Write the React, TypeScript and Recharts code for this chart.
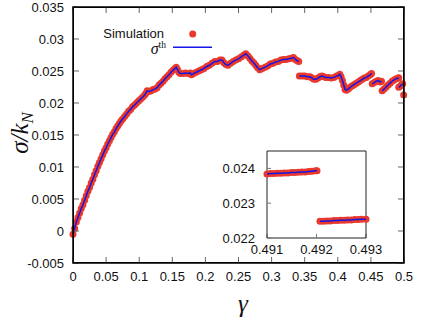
import { ComposedChart, Line, XAxis, YAxis } from "recharts";

// main curve, split where the stress drops leave a gap
const gamma1 = [
  0, 0.0025, 0.005, 0.0075, 0.01, 0.0125, 0.015, 0.0175, 0.02, 0.0225,
  0.025, 0.0275, 0.03, 0.0325, 0.035, 0.0375, 0.04, 0.0425, 0.045, 0.0475,
  0.05, 0.0525, 0.055, 0.0575, 0.06, 0.0625, 0.065, 0.0675, 0.07, 0.0725,
  0.075, 0.078, 0.081, 0.084, 0.087, 0.09, 0.093, 0.096, 0.099, 0.102,
  0.105, 0.108, 0.11, 0.112, 0.115, 0.118, 0.121, 0.124, 0.127, 0.13,
  0.133, 0.136, 0.139, 0.142, 0.145, 0.148, 0.151, 0.154, 0.156, 0.158,
  0.16, 0.162, 0.166, 0.17, 0.174, 0.177, 0.179, 0.182, 0.186, 0.19,
  0.194, 0.198, 0.202, 0.206, 0.21, 0.214, 0.218, 0.222, 0.225, 0.228,
  0.231, 0.234, 0.238, 0.242, 0.246, 0.25, 0.254, 0.258, 0.261, 0.264,
  0.267, 0.27, 0.273, 0.276, 0.279, 0.282, 0.286, 0.29, 0.294, 0.298,
  0.302, 0.306, 0.31, 0.314, 0.318, 0.322, 0.326, 0.33, 0.333, 0.336,
  0.339, 0.341,
];
const sigma1 = [
  -0.0005, 0.0004, 0.0014, 0.0021, 0.0028, 0.0035, 0.0041, 0.0048, 0.0055, 0.0062,
  0.0068, 0.0075, 0.0081, 0.0088, 0.0094, 0.0101, 0.0107, 0.0113, 0.0119, 0.0125,
  0.013, 0.0136, 0.0141, 0.0146, 0.0151, 0.0155, 0.016, 0.0164, 0.0168, 0.0172,
  0.0175, 0.0179, 0.0183, 0.0187, 0.019, 0.0194, 0.0197, 0.02, 0.0203, 0.0206,
  0.0209, 0.0212, 0.0215, 0.0219, 0.0218, 0.0219, 0.0221, 0.0222, 0.0224, 0.0228,
  0.0231, 0.0234, 0.0238, 0.0241, 0.0244, 0.0248, 0.0251, 0.0254, 0.0256, 0.0252,
  0.0248, 0.0246, 0.0246, 0.0247, 0.0246, 0.0247, 0.0244, 0.0246, 0.0248, 0.025,
  0.0252, 0.0254, 0.0257, 0.0259, 0.0262, 0.0265, 0.0265, 0.0267, 0.0267, 0.0263,
  0.026, 0.0259, 0.0262, 0.0265, 0.0267, 0.0269, 0.0272, 0.0275, 0.0277, 0.0274,
  0.027, 0.0266, 0.0263, 0.0259, 0.0255, 0.0252, 0.0254, 0.0256, 0.0258, 0.0261,
  0.0262, 0.0264, 0.0265, 0.0267, 0.0268, 0.0268, 0.0269, 0.027, 0.0271, 0.0268,
  0.0266, 0.0265,
];
const gamma2 = [
  0.342, 0.346, 0.35, 0.354, 0.358, 0.361, 0.364, 0.367, 0.37, 0.373,
  0.376, 0.379, 0.382, 0.386, 0.39, 0.394, 0.398, 0.401, 0.403, 0.405,
  0.407, 0.409, 0.411, 0.413, 0.416, 0.419, 0.422, 0.425, 0.428, 0.431,
  0.434, 0.437, 0.44, 0.443, 0.446, 0.449, 0.451,
];
const sigma2 = [
  0.0242, 0.0242, 0.0242, 0.0241, 0.0241, 0.0239, 0.0237, 0.0237, 0.0239, 0.0241,
  0.0242, 0.0241, 0.024, 0.024, 0.0239, 0.024, 0.0242, 0.0243, 0.0245, 0.0241,
  0.0235, 0.0228, 0.0221, 0.022, 0.0222, 0.0225, 0.0227, 0.0229, 0.0231, 0.0233,
  0.0235, 0.0237, 0.0239, 0.024, 0.0242, 0.0244, 0.0246,
];
const gamma3 = [0.452, 0.455, 0.458, 0.461, 0.464, 0.466];
const sigma3 = [0.023, 0.0232, 0.0234, 0.0235, 0.0233, 0.0234];
const gamma4 = [0.467, 0.47, 0.473, 0.476, 0.479, 0.482, 0.485, 0.488, 0.491, 0.492];
const sigma4 = [0.0219, 0.0222, 0.0225, 0.0228, 0.0231, 0.0234, 0.0236, 0.0238, 0.02385, 0.02393];
const gamma5 = [0.4921, 0.494, 0.496, 0.498];
const sigma5 = [0.02245, 0.0226, 0.0228, 0.023];
const gamma6 = [0.4995];
const sigma6 = [0.02125];

// zoomed window around gamma = 0.492
const gammaZoomA = [
  0.491, 0.49107, 0.49114, 0.49121, 0.49128, 0.49135, 0.49142, 0.49149,
  0.49156, 0.49163, 0.4917, 0.49177, 0.49184, 0.49191, 0.49198, 0.49201,
];
const sigmaZoomA = [
  0.02384, 0.02385, 0.02385, 0.02386, 0.02386, 0.02387, 0.02387, 0.02388,
  0.02388, 0.02389, 0.0239, 0.0239, 0.02391, 0.02392, 0.02393, 0.02393,
];
const gammaZoomB = [
  0.49207, 0.49214, 0.49221, 0.49228, 0.49235, 0.49242, 0.49249, 0.49256,
  0.49263, 0.4927, 0.49277, 0.49284, 0.49291, 0.493,
];
const sigmaZoomB = [
  0.02248, 0.02248, 0.02249, 0.02249, 0.0225, 0.0225, 0.02251, 0.02251,
  0.02252, 0.02252, 0.02253, 0.02253, 0.02254, 0.02254,
];

const xTicks = [0, 0.05, 0.1, 0.15, 0.2, 0.25, 0.3, 0.35, 0.4, 0.45, 0.5];
const yTicks = [-0.005, 0, 0.005, 0.01, 0.015, 0.02, 0.025, 0.03, 0.035];
const xTicksZoom = [0.491, 0.492, 0.493];
const yTicksZoom = [0.022, 0.023, 0.024];

const RED = "#e8392c";
const BLUE = "#1515e6";
const SANS = "Liberation Sans, Arial, sans-serif";
const SERIF = "Liberation Serif, Times New Roman, serif";

// main plot box (matches the chart margins / axis sizes below)
const BOX = { left: 73, right: 404, top: 7, bottom: 263 };

type Row = { g: number; sim: number | null; th: number | null };

function joinSegments(segs: [number[], number[]][]): Row[] {
  const rows: Row[] = [];
  segs.forEach(([gs, ss], k) => {
    if (k > 0) rows.push({ g: gs[0], sim: null, th: null });
    gs.forEach((g, i) => rows.push({ g, sim: ss[i], th: ss[i] }));
  });
  return rows;
}

const mainData = joinSegments([
  [gamma1, sigma1],
  [gamma2, sigma2],
  [gamma3, sigma3],
  [gamma4, sigma4],
  [gamma5, sigma5],
  [gamma6, sigma6],
]);
const zoomData = joinSegments([
  [gammaZoomA, sigmaZoomA],
  [gammaZoomB, sigmaZoomB],
]);

// frame, inward ticks, axis titles and key, drawn over the main chart
function Overlay() {
  const w = BOX.right - BOX.left;
  const h = BOX.bottom - BOX.top;
  const px = (v: number) => BOX.left + (v / 0.5) * w;
  const py = (v: number) => BOX.bottom - ((v + 0.005) / 0.04) * h;
  return (
    <svg width={436} height={327} style={{ position: "absolute", left: 0, top: 0, pointerEvents: "none" }}>
      <g stroke="#666" strokeWidth={1}>
        {xTicks.map((v) => (
          <g key={"x" + v}>
            <line x1={px(v)} x2={px(v)} y1={BOX.bottom} y2={BOX.bottom - 6} />
            <line x1={px(v)} x2={px(v)} y1={BOX.top} y2={BOX.top + 6} />
          </g>
        ))}
        {yTicks.map((v) => (
          <g key={"y" + v}>
            <line x1={BOX.left} x2={BOX.left + 6} y1={py(v)} y2={py(v)} />
            <line x1={BOX.right} x2={BOX.right - 6} y1={py(v)} y2={py(v)} />
          </g>
        ))}
      </g>
      <rect x={BOX.left} y={BOX.top} width={w} height={h} fill="none" stroke="#000" strokeWidth={1.5} />
      <text
        x={28}
        y={133}
        transform="rotate(-90 28 133)"
        textAnchor="middle"
        fontFamily={SERIF}
        fontStyle="italic"
        fontSize={25}
        fill="#111"
      >
        σ/k
        <tspan fontSize={17} dy={5}>
          N
        </tspan>
      </text>
      <text x={243} y={312} textAnchor="middle" fontFamily={SERIF} fontStyle="italic" fontSize={25} fill="#111">
        γ
      </text>
      <g transform="translate(90 26)">
        <text x={74} y={12} textAnchor="end" fontFamily={SANS} fontSize={13} fill="#111">
          Simulation
        </text>
        <circle cx={102.7} cy={8} r={3.5} fill={RED} />
        <text x={76} y={27.5} textAnchor="end" fontFamily={SERIF} fontSize={16} fill="#111">
          <tspan fontStyle="italic">σ</tspan>
          <tspan fontSize={9.5} dy={-6}>
            th
          </tspan>
        </text>
        <line x1={83} x2={122} y1={21.3} y2={21.3} stroke={BLUE} strokeWidth={1.5} />
      </g>
    </svg>
  );
}

// four axes, ticks pointing inwards, labels only bottom/left
function frameAxes(xDom: number[], yDom: number[], xt: number[], yt: number[], o: any) {
  const line = o.frame ? { stroke: o.frame } : false;
  const tl = o.frame ? { stroke: "#777" } : false;
  const font = { fontSize: 13, fill: "#111", fontFamily: SANS };
  return [
    <XAxis
      key="xb"
      xAxisId="b"
      dataKey="g"
      type="number"
      domain={xDom}
      ticks={xt}
      interval={0}
      height={o.xh}
      tickSize={-o.ts}
      tickMargin={o.xm}
      axisLine={line}
      tickLine={tl}
      tick={font}
    />,
    <XAxis
      key="xt"
      xAxisId="t"
      orientation="top"
      type="number"
      domain={xDom}
      allowDataOverflow
      ticks={xt}
      interval={0}
      height={1}
      tick={false}
      tickSize={-o.ts}
      axisLine={line}
      tickLine={tl}
    />,
    <YAxis
      key="yl"
      yAxisId="l"
      type="number"
      domain={yDom}
      ticks={yt}
      interval={0}
      width={o.yw}
      tickSize={-o.ts}
      tickMargin={o.ym}
      axisLine={line}
      tickLine={tl}
      tick={font}
    />,
    <YAxis
      key="yr"
      yAxisId="r"
      orientation="right"
      type="number"
      domain={yDom}
      allowDataOverflow
      ticks={yt}
      interval={0}
      width={1}
      tick={false}
      tickSize={-o.ts}
      axisLine={line}
      tickLine={tl}
    />,
  ];
}

function Series() {
  return [
    <Line
      key="sim"
      xAxisId="b"
      yAxisId="l"
      dataKey="sim"
      name="Simulation"
      stroke="none"
      dot={{ r: 3.5, fill: RED, stroke: "none" }}
      activeDot={false}
      isAnimationActive={false}
    />,
    <Line
      key="th"
      xAxisId="b"
      yAxisId="l"
      dataKey="th"
      name="σth"
      stroke={BLUE}
      strokeWidth={1.5}
      dot={false}
      activeDot={false}
      isAnimationActive={false}
      {...({ zIndex: 1000 } as any)}
    />,
  ];
}

export default function App() {
  return (
    <div style={{ position: "absolute", left: 0, top: 0, width: 436, height: 327, background: "#fff" }}>
      <ComposedChart width={436} height={327} data={mainData} margin={{ top: 6, right: 31, left: 0, bottom: 0 }}>
        {frameAxes([0, 0.5], [-0.005, 0.035], xTicks, yTicks, {
          frame: null,
          ts: 6,
          xh: 64,
          xm: 15,
          yw: 73,
          ym: 15,
        })}
        {Series()}
      </ComposedChart>
      <div
        style={{
          position: "absolute",
          left: BOX.left,
          top: BOX.top,
          width: BOX.right - BOX.left,
          height: BOX.bottom - BOX.top,
          border: "1px solid #000",
          boxSizing: "border-box",
          pointerEvents: "none",
        }}
      />
      <Overlay />
      <div style={{ position: "absolute", left: 220, top: 145 }}>
        <ComposedChart width={180} height={115} data={zoomData} margin={{ top: 5, right: 33, left: 0, bottom: 0 }}>
          {frameAxes([0.491, 0.493], [0.022, 0.0245], xTicksZoom, yTicksZoom, {
            frame: "#222",
            ts: 4,
            xh: 22,
            xm: 11,
            yw: 47,
            ym: 16,
          })}
          {Series()}
        </ComposedChart>
      </div>
    </div>
  );
}
